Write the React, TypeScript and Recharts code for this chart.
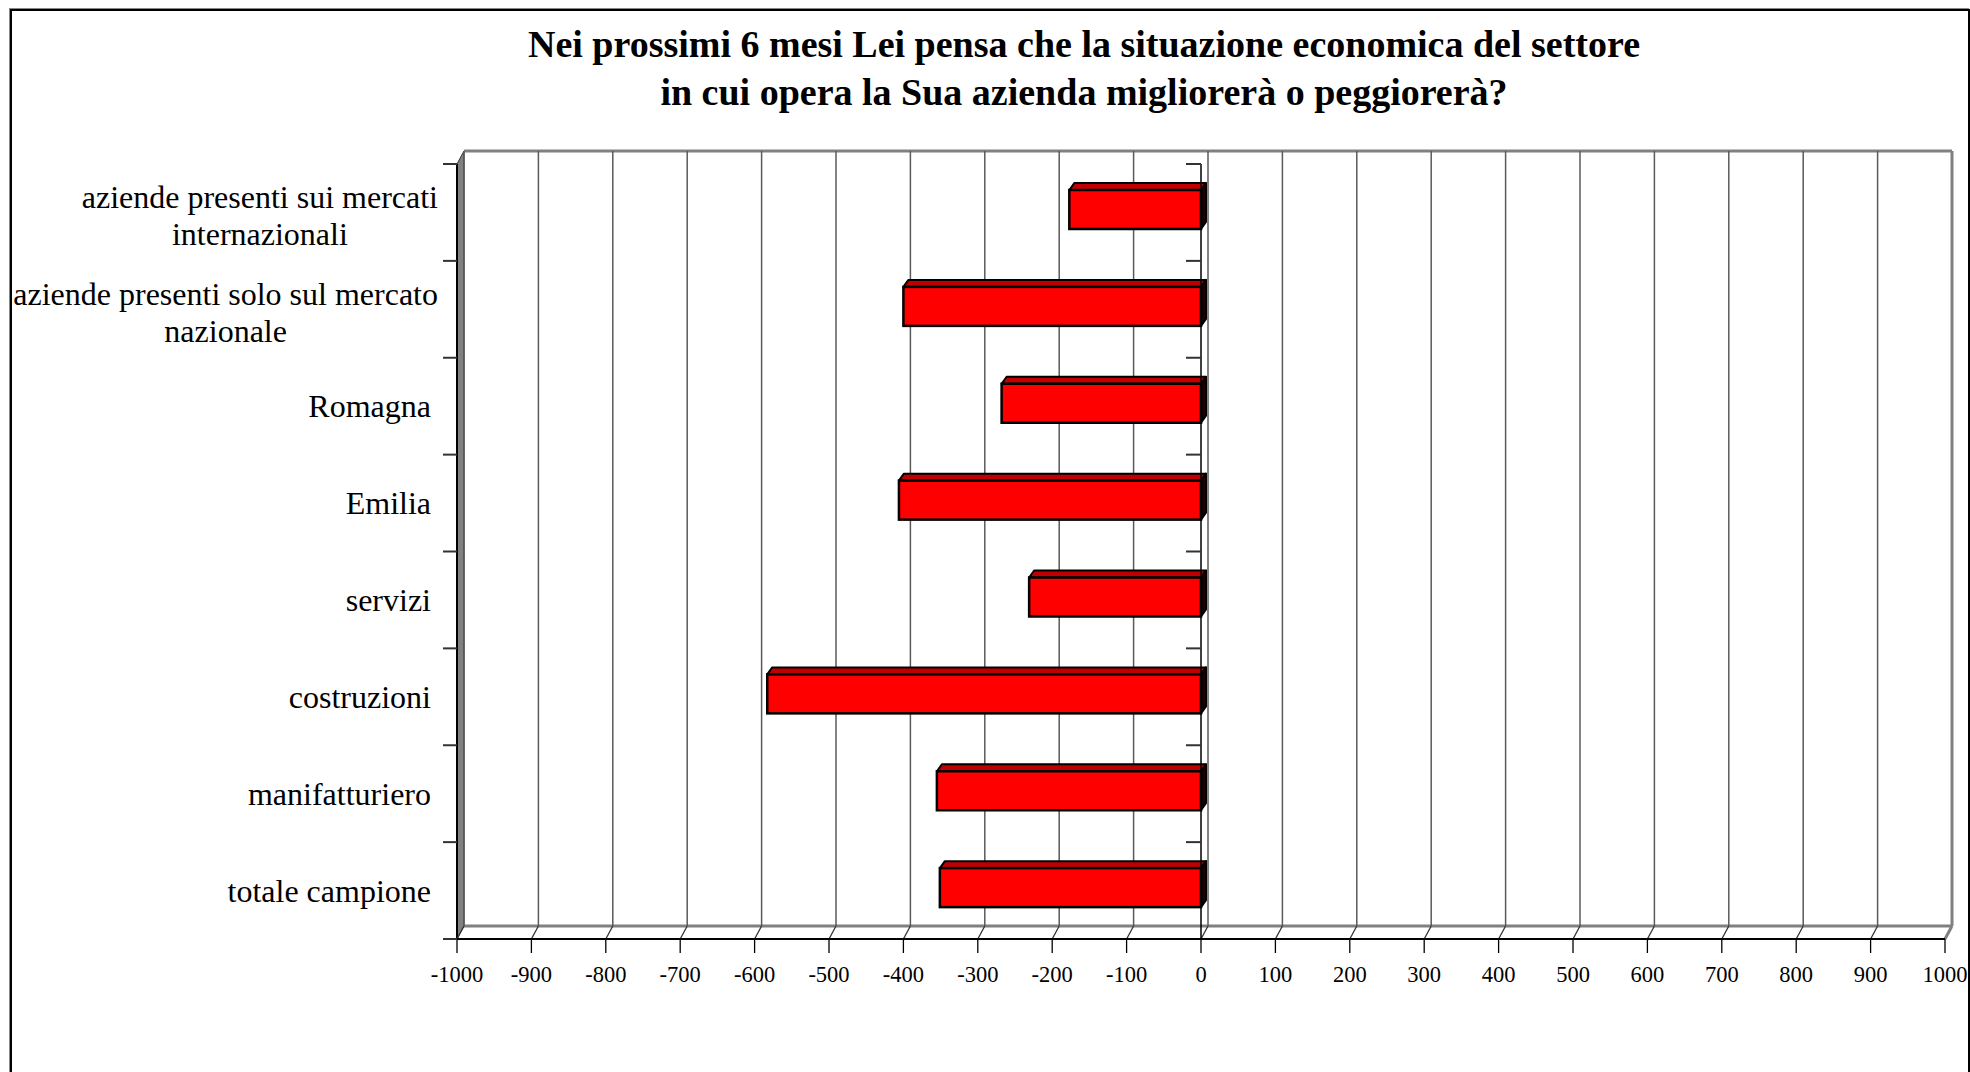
import React from "react";
import { BarChart, Bar, XAxis, YAxis, CartesianGrid, ReferenceLine } from "recharts";

const TITLE_LINES = [
  "Nei prossimi 6 mesi Lei pensa che la situazione economica del settore",
  "in cui opera la Sua azienda migliorerà o peggiorerà?",
];

const CATEGORIES = [
  "aziende presenti sui mercati internazionali",
  "aziende presenti solo sul mercato nazionale",
  "Romagna",
  "Emilia",
  "servizi",
  "costruzioni",
  "manifatturiero",
  "totale campione",
];

// saldo (migliorerà - peggiorerà)
const SALDO = [-177, -400, -268, -406, -231, -583, -355, -351];

const X_TICKS = [
  -1000, -900, -800, -700, -600, -500, -400, -300, -200, -100, 0, 100, 200, 300, 400,
  500, 600, 700, 800, 900, 1000,
];

const data = CATEGORIES.map((name, i) => ({ name, value: SALDO[i] }));

// layout
const W = 1970;
const H = 1072;
const PLOT_L = 457;
const PLOT_T = 164;
const PLOT_R = 1945;
const PLOT_B = 939;
const Y_AXIS_W = 440;
const X_AXIS_H = 60;
// depth of the 3d walls and of the bars
const DX = 7;
const DY = 13;
const BDX = 5;
const BDY = 7;

const SERIF = '"Liberation Serif", "Times New Roman", serif';
const LABEL_FONT = 32;
const LABEL_MAX_W = 450;

let measureCtx: CanvasRenderingContext2D | null = null;
function textWidth(s: string) {
  if (!measureCtx) measureCtx = document.createElement("canvas").getContext("2d");
  if (!measureCtx) return s.length * LABEL_FONT * 0.45;
  measureCtx.font = `${LABEL_FONT}px ${SERIF}`;
  return measureCtx.measureText(s).width;
}

function wrap(s: string) {
  const words = s.split(" ");
  const lines: string[] = [];
  let cur = "";
  words.forEach((w) => {
    const next = cur ? cur + " " + w : w;
    if (cur && textWidth(next) > LABEL_MAX_W) {
      lines.push(cur);
      cur = w;
    } else cur = next;
  });
  if (cur) lines.push(cur);
  return lines;
}

const band = (PLOT_B - PLOT_T) / CATEGORIES.length;

function CategoryTick(props: any) {
  const { y, payload, index } = props;
  const lines = wrap(String(payload.value));
  const blockW = Math.max(...lines.map(textWidth));
  const right = lines.length > 1 ? 438 : 431;
  const cx = right - blockW / 2;
  const lh = 37;
  const y0 = y - ((lines.length - 1) * lh) / 2 + (lines.length > 1 ? 3 : 0);
  const tickTop = y - band / 2;
  return (
    <g>
      <line x1={PLOT_L - 14} x2={PLOT_L} y1={tickTop} y2={tickTop} stroke="#333" strokeWidth={2} />
      {index === CATEGORIES.length - 1 && (
        <line x1={PLOT_L - 14} x2={PLOT_L} y1={tickTop + band} y2={tickTop + band} stroke="#333" strokeWidth={2} />
      )}
      {lines.map((l, i) => (
        <text
          key={i}
          x={cx}
          y={y0 + i * lh}
          dy="0.35em"
          textAnchor="middle"
          fontFamily={SERIF}
          fontSize={LABEL_FONT}
          fill="#000"
        >
          {l}
        </text>
      ))}
    </g>
  );
}

function ValueTick(props: any) {
  const { x, y, payload } = props;
  return (
    <text x={x} y={y + 19} dy="0.35em" textAnchor="middle" fontFamily={SERIF} fontSize={22.5} fill="#000">
      {payload.value}
    </text>
  );
}

// back-wall gridline plus the slanted line across the floor
function GridLine(props: any) {
  const { x1, y1, y2 } = props;
  const edge = Math.abs(x1 - PLOT_R) < 1;
  return (
    <g key={props.key}>
      <line
        x1={x1 + DX}
        x2={x1 + DX}
        y1={y1 - DY}
        y2={y2 - DY}
        stroke={edge ? "#808080" : "#5a5a5a"}
        strokeWidth={edge ? 3 : 1.5}
      />
      <line x1={x1} y1={y2} x2={x1 + DX} y2={y2 - DY} stroke={edge ? "#808080" : "#333"} strokeWidth={edge ? 3 : 1.3} />
    </g>
  );
}

function ZeroAxis(props: any) {
  const { x1, y1, y2 } = props;
  const n = CATEGORIES.length;
  const step = (y2 - y1) / n;
  return (
    <g>
      <line x1={x1} x2={x1} y1={y1} y2={y2} stroke="#000" strokeWidth={1.5} />
      {Array.from({ length: n + 1 }, (_, i) => (
        <line key={i} x1={x1 - 15} x2={x1} y1={y1 + i * step} y2={y1 + i * step} stroke="#333" strokeWidth={2} />
      ))}
    </g>
  );
}

function Box3D(props: any) {
  const { x, y, width, height } = props;
  if (width == null || height == null) return null;
  const left = Math.min(x, x + width);
  const right = Math.max(x, x + width);
  const top = y - 3;
  const bottom = top + height;
  return (
    <g>
      <polygon
        points={`${left},${top} ${left + BDX},${top - BDY} ${right + BDX},${top - BDY} ${right},${top}`}
        fill="#C00000"
        stroke="#000"
        strokeWidth={2}
        strokeLinejoin="round"
      />
      <polygon
        points={`${right},${top} ${right + BDX},${top - BDY} ${right + BDX},${bottom - BDY} ${right},${bottom}`}
        fill="#1a0000"
        stroke="#000"
        strokeWidth={2}
        strokeLinejoin="round"
      />
      <rect x={left} y={top} width={right - left} height={height} fill="#FF0000" stroke="#000" strokeWidth={2.5} />
    </g>
  );
}

function Walls() {
  return (
    <svg width={W} height={H} style={{ position: "absolute", left: 0, top: 0 }}>
      {/* left wall */}
      <polygon
        points={`${PLOT_L},${PLOT_T} ${PLOT_L + DX},${PLOT_T - DY} ${PLOT_L + DX},${PLOT_B - DY} ${PLOT_L},${PLOT_B}`}
        fill="#808080"
        stroke="#333"
        strokeWidth={1}
      />
      <line x1={PLOT_L} x2={PLOT_L} y1={PLOT_T} y2={PLOT_B} stroke="#000" strokeWidth={2} />
      {/* back wall top and bottom edges */}
      <line x1={PLOT_L + DX} x2={PLOT_R + DX} y1={PLOT_T - DY} y2={PLOT_T - DY} stroke="#808080" strokeWidth={3} />
      <line x1={PLOT_L + DX} x2={PLOT_R + DX} y1={PLOT_B - DY} y2={PLOT_B - DY} stroke="#808080" strokeWidth={3} />
    </svg>
  );
}

export default function App() {
  return (
    <div style={{ position: "absolute", left: 0, top: 0, width: W, height: H, overflow: "hidden", background: "#fff" }}>
      <div
        style={{
          position: "absolute",
          left: 10,
          top: 9,
          width: 1956,
          height: 1200,
          border: "2px solid #000",
          boxShadow: "-1px -1px 0 #888",
        }}
      />
      <div
        style={{
          position: "absolute",
          left: 200,
          width: 1768,
          top: 20,
          textAlign: "center",
          fontFamily: SERIF,
          fontWeight: "bold",
          fontSize: 38,
          lineHeight: "48px",
        }}
      >
        {TITLE_LINES.map((t) => (
          <div key={t}>{t}</div>
        ))}
      </div>
      <Walls />
      <div style={{ position: "absolute", left: 0, top: 0 }}>
        <BarChart
          width={W}
          height={H}
          data={data}
          layout="vertical"
          margin={{ top: PLOT_T, right: W - PLOT_R, bottom: H - PLOT_B - X_AXIS_H, left: PLOT_L - Y_AXIS_W }}
        >
          <CartesianGrid horizontal={false} vertical={(p: any) => <GridLine {...p} />} />
          <XAxis
            type="number"
            domain={[-1000, 1000]}
            ticks={X_TICKS}
            interval={0}
            height={X_AXIS_H}
            axisLine={{ stroke: "#000", strokeWidth: 2 }}
            tickLine={{ stroke: "#000", strokeWidth: 1.3 }}
            tickSize={14}
            tick={(p: any) => <ValueTick {...p} />}
          />
          <YAxis
            type="category"
            dataKey="name"
            width={Y_AXIS_W}
            axisLine={false}
            tickLine={false}
            interval={0}
            tick={(p: any) => <CategoryTick {...p} />}
          />
          <ReferenceLine x={0} shape={(p: any) => <ZeroAxis {...p} />} />
          <Bar dataKey="value" barSize={39} shape={(p: any) => <Box3D {...p} />} isAnimationActive={false} />
        </BarChart>
      </div>
    </div>
  );
}
